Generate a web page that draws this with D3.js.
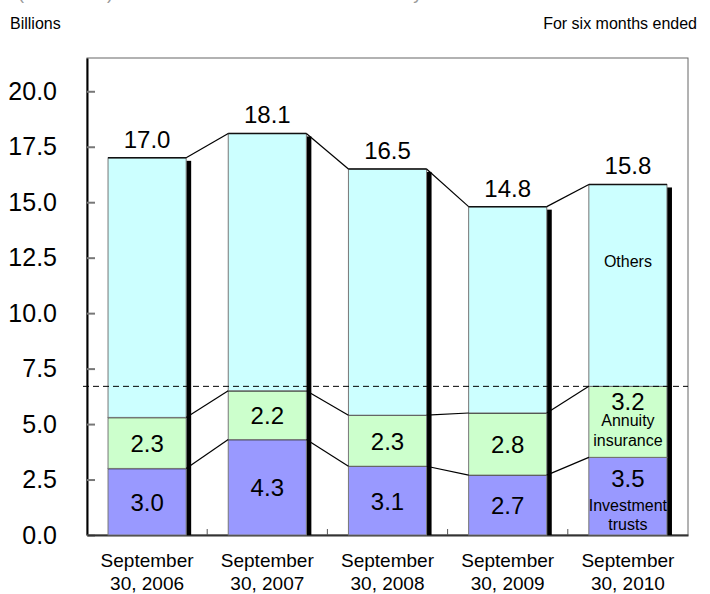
<!DOCTYPE html>
<html>
<head>
<meta charset="utf-8">
<script src="https://cdn.jsdelivr.net/npm/d3@7"></script>
<style>
  body { margin: 0; background: #fff; }
  text { font-family: "Liberation Sans", Arial, sans-serif; fill: #000; }
</style>
</head>
<body>
<div id="canvas"></div>
<script>
const categories = ["September 30, 2006", "September 30, 2007", "September 30, 2008", "September 30, 2009", "September 30, 2010"];
const investment = [3.0, 4.3, 3.1, 2.7, 3.5];
const annuity = [2.3, 2.2, 2.3, 2.8, 3.2];
const others = [11.7, 11.6, 11.1, 9.3, 9.1];
const totals = [17.0, 18.1, 16.5, 14.8, 15.8];
const yTicks = [0, 2.5, 5, 7.5, 10, 12.5, 15, 17.5, 20];
const keys = ["investment", "annuity", "others"];
const colors = { investment: "#9999ff", annuity: "#ccffcc", others: "#ccffff" };

const width = 710;
const height = 594;
const margin = { top: 58, left: 87, bottom: 59, right: 22 };
const iwidth = width - margin.left - margin.right;
const iheight = height - margin.top - margin.bottom;

const canvas = d3.select("#canvas");
const svg = canvas.append("svg").attr("width", width).attr("height", height);

// title sits mostly above the page edge, only its bottom shows
svg.append("text").attr("x", 18).attr("y", -1)
    .style("font-size", "18px").style("fill", "#999")
    .text("(Reference)  Sales of investment trusts and annuity insurance");

svg.append("text").attr("x", 10).attr("y", 29).style("font-size", "16px").text("Billions");
svg.append("text").attr("x", 697).attr("y", 29).attr("text-anchor", "end")
    .style("font-size", "16px").text("For six months ended");

const g = svg.append("g").attr("transform", `translate(${margin.left},${margin.top})`);

const x = d3.scaleBand().domain(categories).range([0, iwidth])
    .paddingInner(0.35).paddingOuter(0.175);
const y = d3.scaleLinear().domain([0, 21.5]).range([iheight, 0]);

const data = categories.map((c, i) => ({
    cat: c, investment: investment[i], annuity: annuity[i], others: others[i], total: totals[i]
}));
const stacked = d3.stack().keys(keys)(data);

// frame
g.append("rect").attr("width", iwidth).attr("height", iheight)
    .attr("fill", "none").attr("stroke", "#666").attr("stroke-width", 1);

// y axis
const yAxis = g.append("g").call(d3.axisLeft(y).tickValues(yTicks).tickFormat(d3.format(".1f"))
    .tickSizeInner(-8).tickSizeOuter(0).tickPadding(30));
yAxis.select(".domain").attr("stroke", "#000").attr("stroke-width", 2);
yAxis.selectAll(".tick line").attr("stroke", "#777").attr("stroke-width", 2);
yAxis.selectAll(".tick text").style("font-size", "25px")
    .style("font-family", '"Liberation Sans", Arial, sans-serif').attr("fill", "#000");

// x axis
const xAxis = g.append("g").attr("transform", `translate(0,${iheight})`)
    .call(d3.axisBottom(x).tickSize(0).tickFormat(""));
xAxis.select(".domain").attr("stroke", "#333").attr("stroke-width", 2);
const step = x.step();
g.append("g").selectAll("line").data(d3.range(1, categories.length)).enter().append("line")
    .attr("x1", i => i * step).attr("x2", i => i * step)
    .attr("y1", iheight).attr("y2", iheight - 6)
    .attr("stroke", "#555").attr("stroke-width", 1);

// x labels (two lines)
const xl = g.append("g").selectAll("text").data(categories).enter().append("text")
    .attr("text-anchor", "middle")
    .attr("x", d => x(d) + x.bandwidth() / 2)
    .style("font-size", "19px");
xl.append("tspan").attr("x", d => x(d) + x.bandwidth() / 2).attr("y", iheight + 32)
    .text(d => d.split(" ")[0]);
xl.append("tspan").attr("x", d => x(d) + x.bandwidth() / 2).attr("y", iheight + 55)
    .text(d => d.split(" ").slice(1).join(" "));

// shadows
g.append("g").selectAll("rect").data(data).enter().append("rect")
    .attr("x", d => x(d.cat) + x.bandwidth())
    .attr("y", d => y(d.total) + 3)
    .attr("width", 5)
    .attr("height", d => iheight - y(d.total) - 3)
    .attr("fill", "#000");

// bars
stacked.forEach(layer => {
    g.append("g").selectAll("rect").data(layer).enter().append("rect")
        .attr("x", d => x(d.data.cat))
        .attr("y", d => y(d[1]))
        .attr("width", x.bandwidth())
        .attr("height", d => y(d[0]) - y(d[1]))
        .attr("fill", colors[layer.key])
        .attr("stroke", "#777").attr("stroke-width", 1);
    // darker top edge
    g.append("g").selectAll("line").data(layer).enter().append("line")
        .attr("x1", d => x(d.data.cat)).attr("x2", d => x(d.data.cat) + x.bandwidth())
        .attr("y1", d => y(d[1])).attr("y2", d => y(d[1]))
        .attr("stroke", "#111").attr("stroke-width", 1.5);
});

// series lines between bars
stacked.forEach(layer => {
    for (let i = 0; i < layer.length - 1; i++) {
        g.append("line")
            .attr("x1", x(categories[i]) + x.bandwidth())
            .attr("y1", y(layer[i][1]))
            .attr("x2", x(categories[i + 1]))
            .attr("y2", y(layer[i + 1][1]))
            .attr("stroke", "#000").attr("stroke-width", 1.2);
    }
});

// dashed reference line at the latest annuity top
const refVal = investment[4] + annuity[4];
g.append("line").attr("x1", -4).attr("x2", iwidth)
    .attr("y1", y(refVal)).attr("y2", y(refVal))
    .attr("stroke", "#000").attr("stroke-width", 1).attr("stroke-dasharray", "6,4");

// total labels
g.append("g").selectAll("text").data(data).enter().append("text")
    .attr("text-anchor", "middle")
    .attr("x", d => x(d.cat) + x.bandwidth() / 2)
    .attr("y", d => y(d.total) - 10)
    .style("font-size", "24px")
    .text(d => d.total.toFixed(1));

// segment labels, first four bars centered
const last = categories.length - 1;
["investment", "annuity"].forEach(k => {
    const layer = stacked.find(s => s.key === k);
    g.append("g").selectAll("text").data(layer.slice(0, last)).enter().append("text")
        .attr("text-anchor", "middle")
        .attr("x", d => x(d.data.cat) + x.bandwidth() / 2)
        .attr("y", d => (y(d[0]) + y(d[1])) / 2 + 9)
        .style("font-size", "24px")
        .text(d => d.data[k].toFixed(1));
});

// last bar with series names
const cx = x(categories[last]) + x.bandwidth() / 2;
const inv = stacked[0][last], ann = stacked[1][last], oth = stacked[2][last];
const invMid = (y(inv[0]) + y(inv[1])) / 2;
const annMid = (y(ann[0]) + y(ann[1])) / 2;
const othMid = (y(oth[0]) + y(oth[1])) / 2;
function lbl(t, yy, size) {
    g.append("text").attr("text-anchor", "middle").attr("x", cx).attr("y", yy)
        .style("font-size", size + "px").text(t);
}
lbl(annuity[last].toFixed(1), annMid - 12, 24);
lbl("Annuity", annMid + 4, 16);
lbl("insurance", annMid + 24, 16);
lbl(investment[last].toFixed(1), invMid - 9, 24);
lbl("Investment", invMid + 15, 16);
lbl("trusts", invMid + 34, 16);
lbl("Others", othMid - 18, 16);
</script>
</body>
</html>
